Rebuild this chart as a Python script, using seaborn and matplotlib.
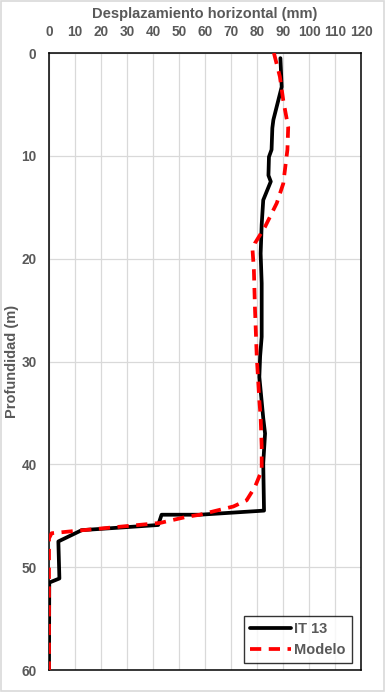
import matplotlib
matplotlib.use("Agg")
import matplotlib.pyplot as plt
import seaborn as sns
import pandas as pd
from matplotlib.patches import Rectangle
from matplotlib.lines import Line2D

sns.set_theme(style="white")
plt.rcParams['font.family'] = ['Liberation Sans', 'DejaVu Sans']

# IT 13 (measured)
it13_x = [89.0, 89.5, 86.3, 85.9, 85.6, 84.6, 84.4, 85.3, 82.4, 81.8, 81.4, 81.8, 81.8,
          81.2, 80.9, 82.4, 83.1, 82.4, 82.7, 58.0, 43.3, 42.0, 12.6, 3.6, 4.0, 0.1, 0.0]
it13_y = [0.5, 3.3, 6.5, 7.3, 9.4, 10.1, 11.9, 12.5, 14.3, 16.7, 19.5, 22.4, 27.6,
          29.5, 31.5, 35.5, 37.0, 39.9, 44.5, 44.9, 44.9, 45.9, 46.4, 47.5, 51.1, 51.5, 60.0]

# Modelo
mod_x = [86.5, 88.8, 90.1, 92.0, 91.7, 90.1, 87.6, 83.1, 79.2, 78.3, 78.8, 79.2, 79.9,
         80.9, 81.4, 81.8, 81.8, 79.2, 76.0, 70.9, 58.0, 53.0, 42.7, 13.2, 1.0, 0.0, 0.0]
mod_y = [0.0, 2.3, 4.6, 7.2, 9.4, 12.7, 14.6, 16.9, 18.5, 19.2, 21.1, 24.7, 29.5,
         33.8, 35.4, 38.3, 40.6, 42.2, 43.5, 44.1, 44.9, 45.1, 45.7, 46.4, 46.7, 47.2, 60.0]

x_ticks = [0, 10, 20, 30, 40, 50, 60, 70, 80, 90, 100, 110, 120]
y_ticks = [0, 10, 20, 30, 40, 50, 60]

df1 = pd.DataFrame({"x": it13_x, "y": it13_y})
df2 = pd.DataFrame({"x": mod_x, "y": mod_y})

fig = plt.figure(figsize=(3.85, 6.92), dpi=100)
ax = fig.add_axes([49/385, 1 - 670/692, (361-49)/385, (670-53)/692])

lw = 2.7
sns.lineplot(data=df1, x="x", y="y", sort=False, estimator=None, ax=ax,
             color="black", linewidth=lw, zorder=3)
sns.lineplot(data=df2, x="x", y="y", sort=False, estimator=None, ax=ax,
             color="#ff0000", linewidth=lw, dashes=False, zorder=4)
ax.lines[-1].set_linestyle((0, (3.0, 2.0)))

ax.set_xlim(0, 120)
ax.set_ylim(60, 0)
ax.set_xticks(x_ticks)
ax.set_yticks(y_ticks)
ax.xaxis.tick_top()
ax.xaxis.set_label_position("top")
ax.grid(True, color="#d9d9d9", linewidth=0.9, zorder=0)
ax.set_axisbelow(True)
for s in ax.spines.values():
    s.set_color("black")
    s.set_linewidth(1.1)

tc = "#595959"
ax.tick_params(axis="both", length=0, labelsize=9.8, labelcolor=tc)
ax.tick_params(axis="x", pad=10)
ax.tick_params(axis="y", pad=9)
for lab in ax.get_xticklabels() + ax.get_yticklabels():
    lab.set_fontweight("bold")
ax.set_xlabel("Desplazamiento horizontal (mm)", fontsize=10.5, fontweight="bold",
              color=tc, labelpad=5)
ax.set_ylabel("Profundidad (m)", fontsize=10.5, fontweight="bold", color=tc, labelpad=2)

handles = [Line2D([], [], color="black", linewidth=lw),
           Line2D([], [], color="#ff0000", linewidth=lw, linestyle=(0, (3.0, 2.0)))]
leg = ax.legend(handles, ["IT 13", "Modelo"], loc="lower right",
                bbox_to_anchor=(0.972, 0.011), borderaxespad=0, frameon=True, fancybox=False,
                prop={"weight": "bold", "size": 10.5}, handlelength=2.75,
                borderpad=0.45, labelspacing=0.45, handletextpad=0.25)
leg.get_frame().set_edgecolor("black")
leg.get_frame().set_linewidth(1.0)
for t in leg.get_texts():
    t.set_color(tc)

fig.patches.append(Rectangle((0.002, 0.002), 0.996, 0.996, transform=fig.transFigure,
                             fill=False, edgecolor="#d9d9d9", linewidth=1.2))

fig.savefig("out.png", dpi=100, facecolor="white")
